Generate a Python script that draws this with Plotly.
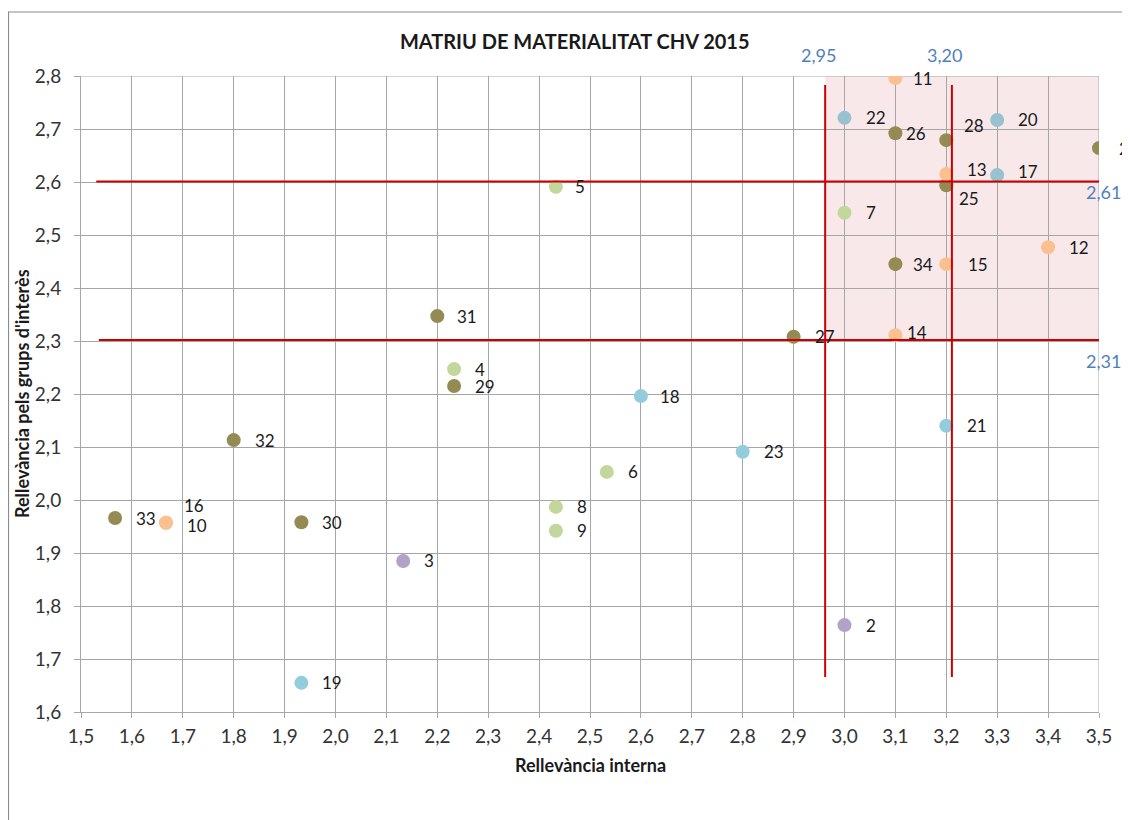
import plotly.graph_objects as go

# ---- data ----
ids = ["11", "22", "20", "26", "28", "24", "13", "17", "25", "5", "7", "12", "34", "15",
       "31", "14", "27", "4", "29", "18", "32", "21", "23", "6", "8", "9", "33", "10",
       "16", "30", "3", "2", "19"]
rel_interna = [3.1, 3.0, 3.3, 3.1, 3.2, 3.5, 3.2, 3.3, 3.2, 2.433, 3.0, 3.4, 3.1, 3.2,
               2.2, 3.1, 2.9, 2.233, 2.233, 2.6, 1.8, 3.2, 2.8, 2.533, 2.433, 2.433, 1.567, 1.667,
               1.667, 1.933, 2.133, 3.0, 1.933]
rel_grups = [2.796, 2.721, 2.717, 2.692, 2.679, 2.664, 2.615, 2.613, 2.594, 2.591, 2.542, 2.477, 2.445, 2.445,
             2.347, 2.311, 2.308, 2.247, 2.215, 2.196, 2.113, 2.140, 2.091, 2.053, 1.987, 1.942, 1.966, 1.957,
             1.957, 1.958, 1.885, 1.764, 1.655]
groups = ["peach", "grayblue", "grayblue", "olive", "olive", "olive", "peach", "grayblue", "olive", "green",
          "green", "peach", "olive", "peach", "olive", "peach", "olive", "green", "olive", "cyan",
          "olive", "cyan", "cyan", "green", "green", "green", "olive", "peach", "peach", "olive",
          "purple", "purple", "cyan"]

x_ticks = [1.5, 1.6, 1.7, 1.8, 1.9, 2.0, 2.1, 2.2, 2.3, 2.4, 2.5, 2.6, 2.7, 2.8, 2.9, 3.0, 3.1, 3.2, 3.3, 3.4, 3.5]
y_ticks = [1.6, 1.7, 1.8, 1.9, 2.0, 2.1, 2.2, 2.3, 2.4, 2.5, 2.6, 2.7, 2.8]

threshold_x = [2.962, 3.211]          # vertical red lines (drawn position)
threshold_x_labels = ["2,95", "3,20"]
threshold_y = [2.601, 2.302]          # horizontal red lines (drawn position)
threshold_y_labels = ["2,61", "2,31"]
vline_extent = [1.666, 2.783]
hline_extent = [[1.53, 3.5], [1.535, 3.51]]

# ---- styles ----
colors = {"olive": "#948A54", "green": "#C3D69B", "peach": "#FAC090",
          "cyan": "#93CDDD", "grayblue": "#98C2D0", "purple": "#B3A2C7"}
label_offsets = {"11": (16, 0), "26": (9, 0), "28": (16, -15), "13": (19, -5), "17": (19, -4),
                 "25": (11, 13), "34": (16, 0), "15": (20, 0), "14": (10, -3), "16": (16, -17),
                 "10": (19, 3), "5": (17, 0), "31": (18, 0), "18": (17, 0), "24": (18, 0)}
FONT = "Lato, 'Open Sans', sans-serif"
GRID = "#A6A6A6"

# page body has an 8px margin: figure is placed at (8, 8)
W, H = 1122, 812
ML, MR, MT, MB = 73, 31, 68, 108
PW, PH = W - ML - MR, H - MT - MB

fig = go.Figure()
for g, col in colors.items():
    xs = [x for x, gg in zip(rel_interna, groups) if gg == g]
    ys = [y for y, gg in zip(rel_grups, groups) if gg == g]
    fig.add_trace(go.Scatter(x=xs, y=ys, mode="markers", showlegend=False,
                             marker=dict(size=14, color=col, line=dict(width=0))))

annotations = []
for i, x, y in zip(ids, rel_interna, rel_grups):
    dx, dy = label_offsets.get(i, (19, 0))
    annotations.append(dict(x=x, y=y, xref="x", yref="y", text=i, showarrow=False,
                            xanchor="left", yanchor="middle", xshift=dx, yshift=-dy,
                            font=dict(family=FONT, size=17, color="#1A1A1A")))

for xv, lab in zip(threshold_x, threshold_x_labels):
    annotations.append(dict(x=xv, y=1.033, xref="x", yref="paper", text=lab, showarrow=False,
                            xanchor="center", yanchor="middle", xshift=-7,
                            font=dict(family=FONT, size=18, color="#4F81BD")))
for yv, lab, sh in zip(threshold_y, threshold_y_labels, [-11, -21]):
    annotations.append(dict(x=3.5, y=yv, xref="x", yref="y", text=lab, showarrow=False,
                            xanchor="center", yanchor="middle", xshift=4, yshift=sh,
                            font=dict(family=FONT, size=18, color="#4F81BD")))

annotations.append(dict(x=0.5, y=-0.083, xref="paper", yref="paper", text="<b>Rellevància interna</b>",
                        showarrow=False, xanchor="center", yanchor="middle",
                        font=dict(family=FONT, size=18, color="#1A1A1A")))
annotations.append(dict(x=(22 - 81) / PW, y=0.5, xref="paper", yref="paper",
                        text="<b>Rellevància pels grups d'interès</b>", textangle=-90,
                        showarrow=False, xanchor="center", yanchor="middle",
                        font=dict(family=FONT, size=18, color="#1A1A1A")))

shapes = [
    # outer chart frame
    dict(type="rect", xref="paper", yref="paper", x0=(0.5 - ML) / PW, x1=1.2, y0=-0.3,
         y1=1 + (MT - 4) / PH, line=dict(color="#8C8C8C", width=1.2), fillcolor="rgba(0,0,0,0)",
         layer="below"),
    # shaded material zone
    dict(type="rect", xref="x", yref="y", x0=threshold_x[0], x1=3.5, y0=threshold_y[1], y1=2.8,
         line=dict(width=0), fillcolor="#F9E8EA", layer="below"),
]
for xv in threshold_x:
    shapes.append(dict(type="line", xref="x", yref="y", x0=xv, x1=xv, y0=vline_extent[0],
                       y1=vline_extent[1], line=dict(color="#CC0000", width=2), layer="above"))
for yv, ext in zip(threshold_y, hline_extent):
    shapes.append(dict(type="line", xref="x", yref="y", x0=ext[0], x1=ext[1], y0=yv, y1=yv,
                       line=dict(color="#CC0000", width=2), layer="above"))
shapes.append(dict(type="line", xref="x", yref="y", x0=3.5, x1=3.5, y0=1.6, y1=2.8,
                   line=dict(color=GRID, width=1), layer="below"))
shapes.append(dict(type="line", xref="x", yref="y", x0=1.5, x1=3.5, y0=2.8, y1=2.8,
                   line=dict(color=GRID, width=1), layer="below"))

fig.update_layout(
    width=W, height=H, autosize=False,
    margin=dict(l=ML, r=MR, t=MT, b=MB, pad=0),
    paper_bgcolor="white", plot_bgcolor="white",
    separators=", ",
    title=dict(text="<b>MATRIU DE MATERIALITAT CHV 2015</b>", x=0.485, xref="paper", xanchor="center",
               y=1 - 34 / H, yref="container", yanchor="middle",
               font=dict(family=FONT, size=20, color="#1A1A1A")),
    font=dict(family=FONT, size=19, color="#333333"),
    xaxis=dict(range=[1.5, 3.5], tickvals=x_ticks, tickformat=".1f", showgrid=True, gridcolor=GRID,
               gridwidth=1, showline=True, linecolor=GRID, linewidth=1, ticks="outside", ticklen=5,
               tickcolor=GRID, zeroline=False, ticklabelstandoff=2,
               tickfont=dict(family=FONT, size=19, color="#333333")),
    yaxis=dict(range=[1.6, 2.8], tickvals=y_ticks, tickformat=".1f", showgrid=True, gridcolor=GRID,
               gridwidth=1, showline=True, linecolor=GRID, linewidth=1, ticks="outside", ticklen=6,
               tickcolor=GRID, zeroline=False, ticklabelstandoff=9,
               tickfont=dict(family=FONT, size=19, color="#333333")),
    annotations=annotations,
    shapes=shapes,
)

fig.write_html("out.html")
